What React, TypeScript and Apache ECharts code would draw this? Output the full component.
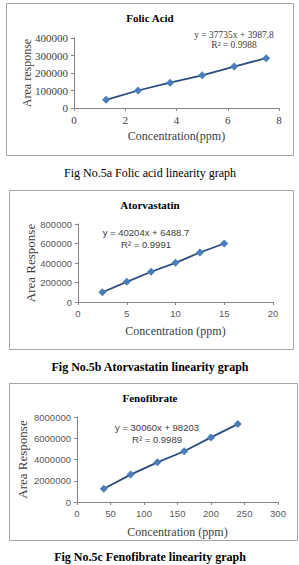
import React, { useEffect, useRef } from "react";
import * as echarts from "echarts";

const folicX = [1.25, 2.5, 3.75, 5, 6.25, 7.5];
const folicY = [47000, 100000, 145000, 187000, 237000, 285000];
const atorX = [2.5, 5, 7.5, 10, 12.5, 15];
const atorY = [100000, 207000, 310000, 402000, 508000, 600000];
const fenoX = [40, 80, 120, 160, 200, 240];
const fenoY = [1250000, 2580000, 3730000, 4780000, 6080000, 7330000];

const titles = ["Folic Acid", "Atorvastatin", "Fenofibrate"];
const equations = ["y = 37735x + 3987.8", "y = 40204x + 6488.7", "y = 30060x + 98203"];
const r2s = ["R² = 0.9988", "R² = 0.9991", "R² = 0.9989"];
const xTitles = ["Concentration(ppm)", "Concentration (ppm)", "Concentration (ppm)"];
const yTitles = ["Area response", "Area Response", "Area Response"];
const captions = [
  "Fig No.5a Folic acid linearity graph",
  "Fig No.5b Atorvastatin linearity graph",
  "Fig No.5c Fenofibrate linearity graph",
];

const SERIF = "Liberation Serif";
const SANS = "Liberation Sans";

export default function App() {
  const ref = useRef<HTMLDivElement>(null);
  useEffect(() => {
    if (!ref.current) return;
    const chart = echarts.init(ref.current, undefined, { renderer: "svg" });

    const grids = [
      { left: 74, width: 205, top: 38, height: 70 },
      { left: 78, width: 195, top: 224, height: 78 },
      { left: 77, width: 201, top: 417, height: 85 },
    ];
    const xCfg = [
      { min: 0, max: 8, interval: 2 },
      { min: 0, max: 20, interval: 5 },
      { min: 0, max: 300, interval: 50 },
    ];
    const yCfg = [
      { min: 0, max: 400000, interval: 100000 },
      { min: 0, max: 800000, interval: 200000 },
      { min: 0, max: 8000000, interval: 2000000 },
    ];
    const labelFonts = [
      { fontFamily: SERIF, fontSize: 11, color: "#404040" },
      { fontFamily: SANS, fontSize: 9.5, color: "#595959" },
      { fontFamily: SANS, fontSize: 9.5, color: "#595959" },
    ];
    const datasets = [
      folicX.map((x, i) => [x, folicY[i]]),
      atorX.map((x, i) => [x, atorY[i]]),
      fenoX.map((x, i) => [x, fenoY[i]]),
    ];

    const axisLine = { show: true, lineStyle: { color: "#868686", width: 1 } };
    const axisTick = { show: true, length: 3, lineStyle: { color: "#868686" } };

    const boxes = [
      { x: 6, y: 3, w: 287, h: 152 },
      { x: 9, y: 190, w: 284, h: 159 },
      { x: 9, y: 383, w: 288, h: 157 },
    ];
    const titleY = [18, 205, 398];
    const eqPos = [
      { x: 234, y: 35, y2: 45, font: SERIF, size: 9.5 },
      { x: 146, y: 232, y2: 244, font: SANS, size: 9.5 },
      { x: 157, y: 427, y2: 439, font: SANS, size: 9.5 },
    ];
    const xTitleY = [136, 331, 532];
    const yTitleX = [27, 30, 22];
    const yTitleSize = [12, 13, 13];
    const captionY = [173, 367, 557];
    const captionBold = ["normal", "bold", "bold"];

    const txt = (x: number, y: number, text: string, family: string, size: number, weight: string, fill: string, extra: any = {}) => ({
      type: "text",
      x,
      y,
      ...extra,
      style: { text, fontFamily: family, fontSize: size, fontWeight: weight, fill, textAlign: "center", textVerticalAlign: "middle" },
    });

    const graphic: any[] = [];
    boxes.forEach((b) => {
      graphic.push({
        type: "rect",
        shape: { x: b.x + 0.5, y: b.y + 0.5, width: b.w, height: b.h },
        style: { fill: "#fff", stroke: "#a6a6a6", lineWidth: 1 },
        z: -10,
      });
    });
    for (let i = 0; i < 3; i++) {
      const g = grids[i];
      graphic.push(txt(150, titleY[i], titles[i], SERIF, 11, "bold", "#000"));
      graphic.push(txt(eqPos[i].x, eqPos[i].y, equations[i], eqPos[i].font, eqPos[i].size, "normal", "#404040"));
      graphic.push(txt(eqPos[i].x, eqPos[i].y2, r2s[i], eqPos[i].font, eqPos[i].size, "normal", "#404040"));
      graphic.push(txt(g.left + g.width / 2, xTitleY[i], xTitles[i], SERIF, 12, "normal", "#404040"));
      graphic.push(txt(yTitleX[i], g.top + g.height / 2, yTitles[i], SERIF, yTitleSize[i], "normal", "#404040", { rotation: Math.PI / 2 }));
      graphic.push(txt(150, captionY[i], captions[i], SERIF, 12, captionBold[i], "#000"));
    }

    chart.setOption({
      animation: false,
      backgroundColor: "#fff",
      grid: grids.map((g) => ({ ...g, containLabel: false })),
      xAxis: xCfg.map((c, i) => ({
        type: "value",
        gridIndex: i,
        ...c,
        axisLine,
        axisTick,
        splitLine: { show: false },
        axisLabel: { ...labelFonts[i], margin: 6, formatter: (v: number) => String(v) },
      })),
      yAxis: yCfg.map((c, i) => ({
        type: "value",
        gridIndex: i,
        ...c,
        axisLine,
        axisTick,
        splitLine: { show: false },
        axisLabel: { ...labelFonts[i], margin: 6, formatter: (v: number) => String(v) },
      })),
      series: datasets.map((d, i) => ({
        type: "line",
        xAxisIndex: i,
        yAxisIndex: i,
        data: d,
        symbol: "diamond",
        symbolSize: 8,
        itemStyle: { color: "#4a7ebb" },
        lineStyle: { color: "#2b4c7e", width: 1.8 },
        z: 3,
      })),
      graphic,
    });
    return () => chart.dispose();
  }, []);
  return <div ref={ref} style={{ position: "absolute", left: 0, top: 0, width: 299, height: 565 }} />;
}
